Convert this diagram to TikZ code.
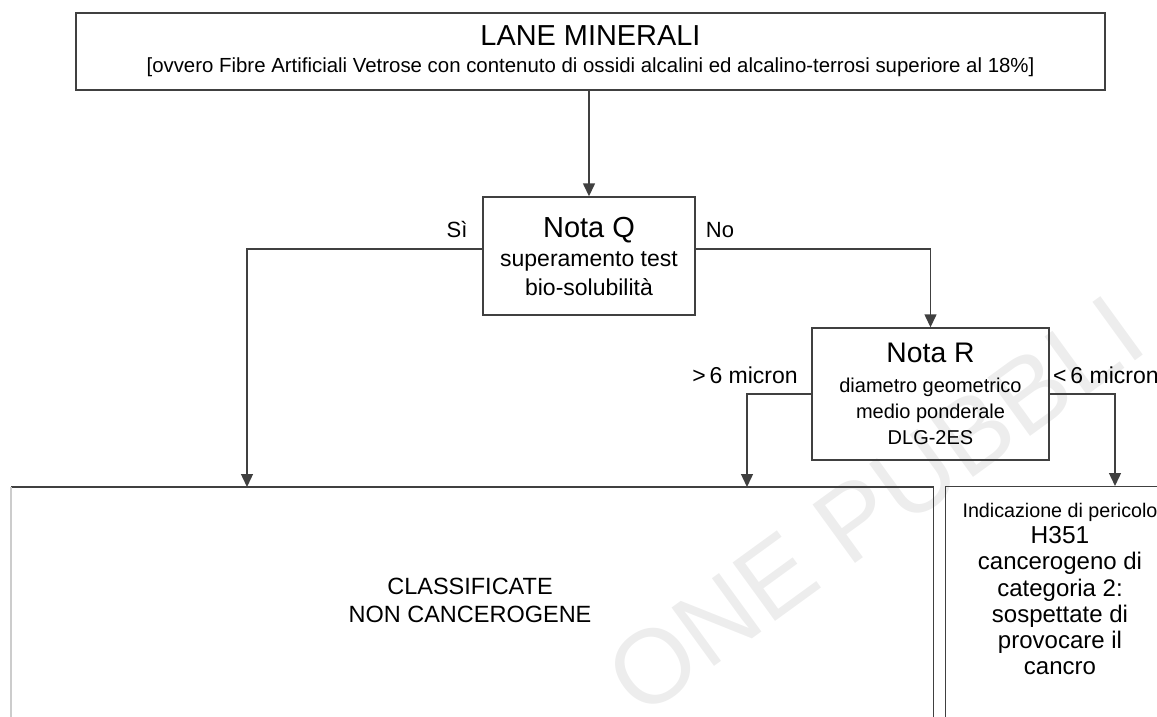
\documentclass[tikz,border=0pt]{standalone}
\usepackage{fontspec}
\setmainfont{Liberation Sans}
\usetikzlibrary{arrows.meta}
\newcommand{\fsz}[2]{\fontsize{#1}{#2}\selectfont}

\begin{document}
\begin{tikzpicture}[x=1pt,y=-1pt,
        box/.style = {draw=black!75,line width=1.4pt,inner sep=0pt,align=center},
        arrow/.style = {draw=black!75,line width=1.4pt,-{Triangle[width=12pt,length=13pt]}},
        lbl/.style = {inner sep=0pt,font=\fsz{22}{26}}]
                \useasboundingbox (0,0) rectangle (1157,717);
                \clip (0,0) rectangle (1157,717);

                % watermark
                \node[text=black!7,font=\fsz{105}{105},rotate=36] (wm) at (875,505) {ONE PUBBLI};

                \node[box,minimum width=1029pt,minimum height=77pt,font=\fsz{20.4}{27}] 
                    (lane) at (590.5,51.5) {{\fsz{28.9}{27}LANE MINERALI}\\{[ovvero Fibre Artificiali Vetrose con contenuto di ossidi alcalini ed alcalino-terrosi superiore al 18\%]}};
                \node[box,minimum width=212pt,minimum height=118pt,font=\fsz{23}{29}] 
                    (notaq) at (589,256) {{\fsz{29}{29}Nota Q}\\superamento test\\bio-solubilità};
                \node[box,minimum width=237pt,minimum height=132pt,font=\fsz{20}{26}] 
                    (notar) at (930.5,394) {{\fsz{28.3}{26}Nota R}\\[4pt]diametro geometrico\\medio ponderale\\DLG-2ES};

                % result boxes, cut by the bottom edge
                \node[box,draw=none,anchor=north west,minimum width=921pt,minimum height=300pt] 
                    (classif) at (11,487) {};
                \draw[line width=1.4pt,black!75] (classif.south east) |- (classif.north west);
                \draw[line width=1.4pt,black!20] (classif.north west) -- (classif.south west);
                \node[align=center,inner sep=0pt,font=\fsz{23.5}{28}] 
                    (classiftxt) at (470,600) {CLASSIFICATE\\NON CANCEROGENE};
                \node[box,anchor=north west,minimum width=232pt,minimum height=300pt] 
                    (pericolo) at (945,486) {};
                \node[align=center,inner sep=0pt,font=\fsz{24}{26.3}] 
                    (pericolotxt) at (1060,589) {{\fsz{19.7}{26.3}Indicazione di pericolo}\\{\fsz{24.5}{26.3}H351}\\cancerogeno di\\categoria 2:\\sospettate di\\provocare il\\cancro};

                \draw[arrow] (notaq.north |- lane.south) -- (notaq.north);
                \draw[arrow] ([yshift=7pt]notaq.west) -| ([xshift=236pt]classif.north west);
                \draw[arrow] ([yshift=7pt]notaq.east) -| (notar.north);
                \draw[arrow] (notar.west) -| ([xshift=736pt]classif.north west);
                \draw[arrow] (notar.east) -| ([xshift=170pt]pericolo.north west);

                \node[lbl] (si) at (457,230) {Sì};
                \node[lbl] (no) at (720,230) {No};
                \node[lbl,font=\fsz{23}{26}] (gt) at (745,375) {>\,6 micron};
                \node[lbl,anchor=west,font=\fsz{23}{26}] (lt) at (1053,375) {<\,6 micron};
\end{tikzpicture}
\end{document}
